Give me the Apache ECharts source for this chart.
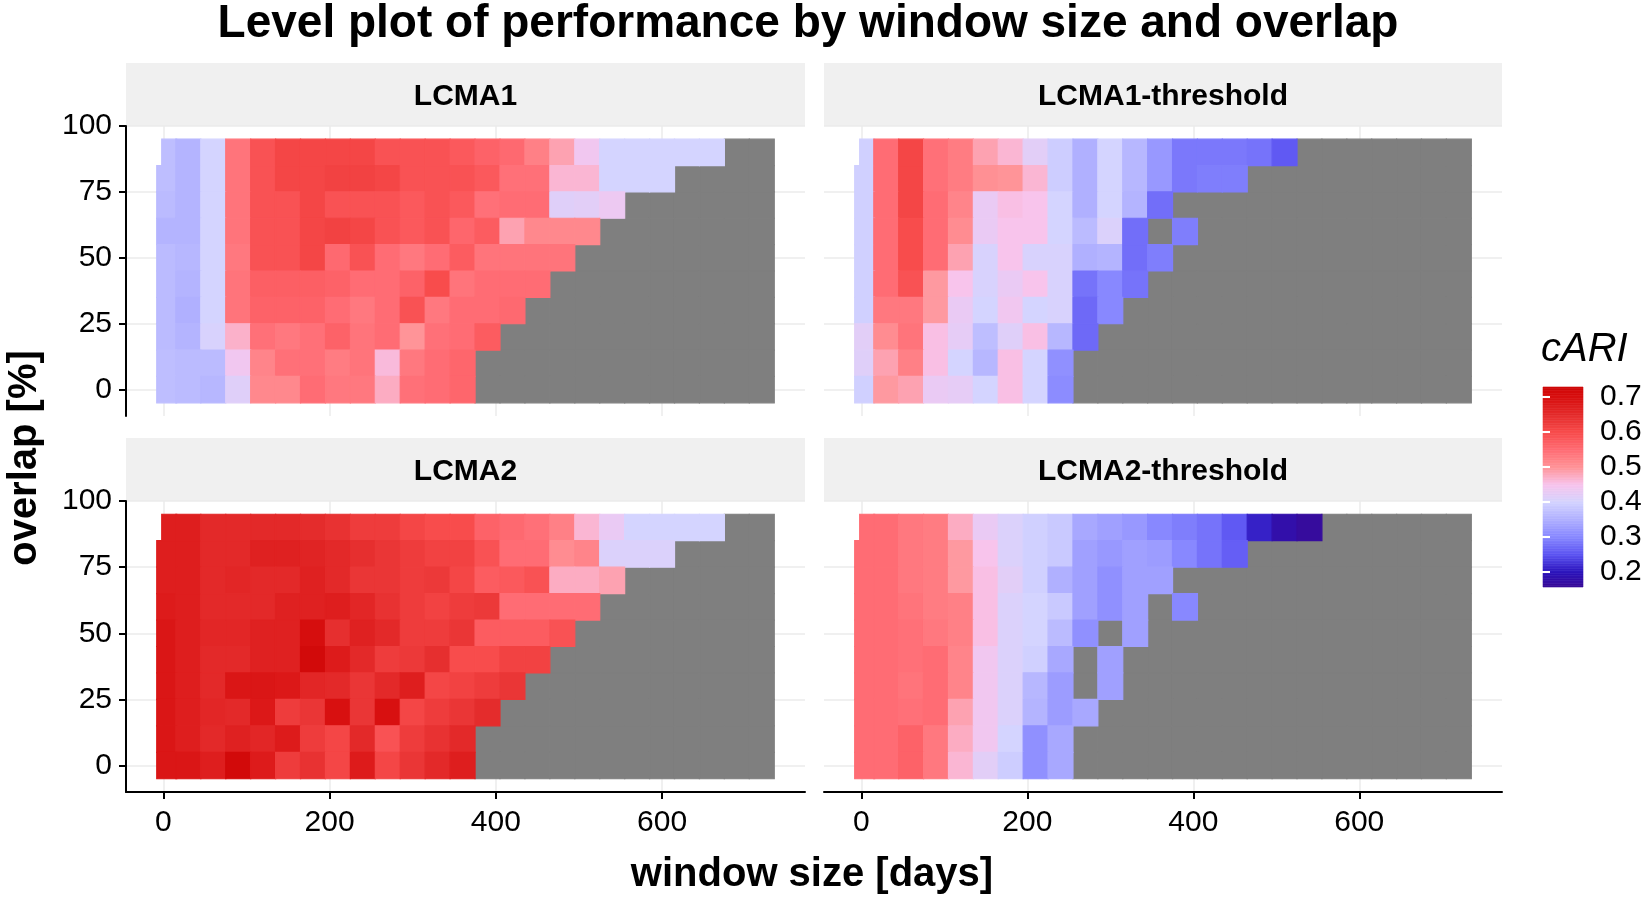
<!DOCTYPE html>
<html>
<head>
<meta charset="utf-8">
<title>Level plot of performance by window size and overlap</title>
<script src="https://cdn.jsdelivr.net/npm/echarts@6/dist/echarts.min.js"></script>
<style>
  html, body { margin: 0; padding: 0; background: #fff; }
  #chart { width: 1650px; height: 903px; }
</style>
</head>
<body>
<div id="chart"></div>
<script>
// window sizes in days (column centres, the first window is a short one)
const windowSizes = [4, 30, 60, 90, 120, 150, 180, 210, 240, 270, 300, 330, 360,
  390, 420, 450, 480, 510, 540, 570, 600, 630, 660, 690, 720];
// overlap in %, rows listed from top to bottom
const overlaps = [90, 80, 70, 60, 50, 40, 30, 20, 10, 0];

const xTicks = [0, 200, 400, 600];
const yTicks = [0, 25, 50, 75, 100];
const cariTicks = [0.2, 0.3, 0.4, 0.5, 0.6, 0.7];

const panelNames = ['LCMA1', 'LCMA1-threshold', 'LCMA2', 'LCMA2-threshold'];

// cARI per overlap row; missing cells (NA) are drawn grey
const lcma1 = [
  [.37, .355, .40, .54, .59, .61, .61, .61, .61, .59, .59, .59, .58, .565, .555, .525, .485, .44, .40, .40, .40, .40, .40],
  [.37, .355, .40, .54, .59, .61, .61, .615, .615, .61, .59, .59, .59, .58, .545, .545, .465, .465, .40, .40, .40],
  [.365, .355, .40, .54, .59, .59, .61, .59, .59, .59, .58, .59, .58, .545, .55, .55, .415, .42, .435],
  [.355, .355, .40, .54, .59, .59, .61, .615, .61, .59, .58, .59, .56, .575, .485, .515, .515, .515],
  [.365, .36, .40, .535, .59, .59, .61, .555, .59, .55, .535, .55, .575, .54, .54, .54, .54],
  [.365, .355, .40, .54, .57, .57, .57, .565, .55, .55, .565, .60, .54, .55, .55, .55],
  [.365, .35, .40, .54, .565, .565, .565, .55, .535, .55, .59, .535, .55, .55, .555],
  [.365, .355, .405, .47, .545, .535, .545, .565, .54, .55, .50, .545, .55, .575],
  [.37, .365, .365, .44, .52, .545, .545, .53, .54, .46, .535, .55, .56],
  [.37, .365, .36, .415, .515, .515, .55, .535, .535, .475, .545, .55, .56]
];

const lcma1Threshold = [
  [.395, .55, .61, .545, .53, .485, .465, .42, .39, .35, .40, .36, .32, .285, .285, .285, .28, .255],
  [.395, .55, .61, .545, .53, .505, .50, .465, .39, .35, .40, .36, .32, .285, .29, .29],
  [.395, .55, .61, .55, .52, .43, .455, .45, .40, .35, .40, .355, .275],
  [.395, .55, .60, .55, .51, .43, .45, .45, .40, .365, .41, .275, null, .29],
  [.395, .55, .60, .55, .485, .405, .45, .405, .405, .35, .355, .275, .29],
  [.395, .55, .59, .495, .45, .405, .43, .45, .405, .28, .30, .28],
  [.395, .535, .535, .495, .43, .40, .44, .40, .405, .27, .30],
  [.42, .51, .54, .455, .425, .37, .415, .455, .36, .27],
  [.415, .485, .525, .455, .40, .36, .455, .40, .31],
  [.395, .495, .485, .43, .425, .40, .455, .40, .305]
];

const lcma2 = [
  [.675, .675, .655, .655, .655, .655, .65, .64, .625, .625, .61, .60, .60, .565, .555, .545, .525, .465, .43, .40, .40, .40, .40],
  [.675, .675, .655, .655, .67, .67, .665, .655, .645, .635, .625, .615, .615, .59, .55, .55, .51, .52, .41, .41, .41],
  [.675, .675, .655, .66, .655, .655, .67, .655, .635, .635, .625, .63, .61, .575, .58, .59, .475, .475, .485],
  [.68, .675, .655, .655, .655, .67, .67, .675, .66, .64, .625, .615, .625, .63, .55, .55, .55, .55],
  [.69, .675, .66, .66, .67, .67, .705, .645, .67, .655, .625, .625, .635, .575, .575, .575, .59],
  [.69, .675, .655, .655, .67, .67, .72, .68, .655, .625, .63, .645, .60, .60, .615, .615],
  [.69, .675, .655, .69, .69, .685, .66, .655, .635, .655, .675, .61, .615, .625, .635],
  [.69, .675, .66, .655, .685, .625, .635, .70, .635, .70, .61, .625, .635, .65],
  [.69, .675, .655, .67, .66, .68, .625, .61, .655, .59, .625, .64, .655],
  [.69, .69, .675, .72, .68, .625, .64, .61, .68, .61, .635, .655, .675]
];

const lcma2Threshold = [
  [.55, .55, .535, .53, .475, .43, .41, .395, .385, .34, .33, .32, .30, .29, .28, .255, .21, .18, .165],
  [.55, .55, .535, .53, .495, .45, .41, .395, .385, .33, .32, .33, .325, .30, .28, .26],
  [.55, .55, .535, .53, .495, .455, .42, .395, .35, .33, .31, .33, .33],
  [.55, .55, .54, .53, .525, .455, .41, .40, .385, .33, .31, .33, null, .30],
  [.55, .55, .545, .535, .525, .455, .41, .40, .365, .31, null, .33],
  [.55, .55, .545, .55, .52, .44, .41, .395, .34, null, .33],
  [.55, .55, .54, .55, .52, .44, .41, .36, .325, null, .33],
  [.55, .55, .545, .55, .485, .44, .41, .355, .325, .34],
  [.55, .55, .565, .535, .475, .44, .40, .31, .34],
  [.55, .55, .565, .535, .465, .42, .39, .31, .34]
];

const panelData = [lcma1, lcma1Threshold, lcma2, lcma2Threshold];

const FONT = '"Liberation Sans", Arial, sans-serif';
const NA_GREY = '#7f7f7f';

// panel layout (px)
const panels = [
  { left: 126, top: 126, width: 679, height: 290 },
  { left: 824, top: 126, width: 678, height: 290 },
  { left: 126, top: 501, width: 679, height: 291 },
  { left: 824, top: 501, width: 678, height: 291 }
];
const stripH = 63;

// tile extent along x for column i
function tileX(i, overlap) {
  const w = windowSizes[i];
  const half = i === 0 ? 12 : 15;
  let x0 = w - half;
  if (i === 0 && overlap === 90) x0 = -2;
  return [x0, w + half];
}

function buildTiles(rows) {
  const vals = [], missing = [];
  rows.forEach((row, r) => {
    const ov = overlaps[r];
    windowSizes.forEach((w, i) => {
      const v = row[i] === undefined ? null : row[i];
      const [x0, x1] = tileX(i, ov);
      if (v === null) missing.push([x0, x1, ov]);
      else vals.push([x0, x1, ov, v]);
    });
  });
  return { vals, missing };
}

function renderTile(params, api) {
  const y = api.value(2);
  const p0 = api.coord([api.value(0), y + 5]);
  const p1 = api.coord([api.value(1), y - 5]);
  const color = api.visual('color');
  return {
    type: 'rect',
    shape: { x: p0[0], y: p0[1], width: p1[0] - p0[0], height: p1[1] - p0[1] },
    style: { fill: color, stroke: color, lineWidth: 1.2 }
  };
}

function renderLegendStep(params, api) {
  const p0 = api.coord([0, api.value(4)]);
  const p1 = api.coord([1, api.value(2)]);
  const color = api.visual('color');
  return {
    type: 'rect',
    shape: { x: p0[0], y: p0[1], width: p1[0] - p0[0], height: p1[1] - p0[1] },
    style: { fill: color, stroke: color, lineWidth: 0.6 }
  };
}

const grids = [], xAxes = [], yAxes = [], series = [], graphics = [];
const colourSeries = [];

panels.forEach((p, k) => {
  const isBottom = k >= 2, isLeft = k % 2 === 0;
  grids.push({ left: p.left, top: p.top, width: p.width, height: p.height });
  xAxes.push({
    type: 'value', gridIndex: k, min: -45, max: 772,
    axisLine: { show: isBottom, onZero: false, lineStyle: { color: '#000', width: 2 } },
    axisTick: { show: isBottom, length: 7, customValues: xTicks, lineStyle: { color: '#000', width: 2 } },
    axisLabel: { show: isBottom, customValues: xTicks, margin: 16, fontSize: 30, color: '#000', fontFamily: FONT },
    splitLine: { show: true, lineStyle: { color: '#ebebeb', width: 1.5 } }
  });
  yAxes.push({
    type: 'value', gridIndex: k, min: -10, max: 100,
    axisLine: { show: isLeft, onZero: false, lineStyle: { color: '#000', width: 2 } },
    axisTick: { show: isLeft, length: 7, customValues: yTicks, lineStyle: { color: '#000', width: 2 } },
    axisLabel: { show: isLeft, customValues: yTicks, margin: 14, fontSize: 30, color: '#000', fontFamily: FONT },
    splitLine: { show: true, lineStyle: { color: '#ebebeb', width: 1.5 } }
  });

  const t = buildTiles(panelData[k]);
  colourSeries.push(series.length);
  series.push({
    type: 'custom', name: panelNames[k] + ' NA', xAxisIndex: k, yAxisIndex: k,
    renderItem: renderTile, data: t.missing, itemStyle: { color: NA_GREY },
    silent: true, animation: false
  });
  colourSeries.pop();
  colourSeries.push(series.length);
  series.push({
    type: 'custom', name: panelNames[k], xAxisIndex: k, yAxisIndex: k,
    renderItem: renderTile, data: t.vals, silent: true, animation: false
  });

  // facet strip
  const stripTop = p.top - stripH;
  graphics.push({
    type: 'rect', left: p.left, top: stripTop,
    shape: { width: p.width, height: stripH },
    style: { fill: '#f0f0f0' }, silent: true
  });
  graphics.push({
    type: 'text', x: p.left + p.width / 2, y: stripTop + stripH / 2 + 2,
    style: {
      text: panelNames[k], font: 'bold 30px ' + FONT, fill: '#000',
      textAlign: 'center', textVerticalAlign: 'middle'
    }, silent: true
  });
});

// colour bar legend
const legMin = 0.157, legMax = 0.729, legSteps = 120;
const legendData = [];
for (let i = 0; i < legSteps; i++) {
  const lo = legMin + (legMax - legMin) * i / legSteps;
  const hi = legMin + (legMax - legMin) * (i + 1) / legSteps;
  legendData.push([0, 1, lo, (lo + hi) / 2, hi]);
}
const lg = panels.length;
grids.push({ left: 1543, top: 387, width: 40, height: 200 });
xAxes.push({ type: 'value', gridIndex: lg, min: 0, max: 1, show: false });
yAxes.push({
  type: 'value', gridIndex: lg, min: legMin, max: legMax, position: 'right', z: 5,
  axisLine: { show: false },
  axisTick: { show: true, inside: true, length: 7, customValues: cariTicks, lineStyle: { color: '#fff', width: 2 } },
  axisLabel: { customValues: cariTicks, margin: 17, fontSize: 30, color: '#000', fontFamily: FONT,
    formatter: v => v.toFixed(1) },
  splitLine: { show: false }
});
yAxes.push({
  type: 'value', gridIndex: lg, min: legMin, max: legMax, position: 'left', z: 5,
  axisLine: { show: false },
  axisTick: { show: true, inside: true, length: 7, customValues: cariTicks, lineStyle: { color: '#fff', width: 2 } },
  axisLabel: { show: false },
  splitLine: { show: false }
});
colourSeries.push(series.length);
series.push({
  type: 'custom', name: 'cARI scale', xAxisIndex: lg, yAxisIndex: lg,
  renderItem: renderLegendStep, data: legendData, silent: true, animation: false
});

graphics.push({
  type: 'text', x: 1541, y: 350,
  style: { text: 'cARI', font: 'italic 40px ' + FONT, fill: '#000', textVerticalAlign: 'middle' },
  silent: true
});
graphics.push({
  type: 'text', x: 812, y: 875,
  style: { text: 'window size [days]', font: 'bold 40px ' + FONT, fill: '#000',
    textAlign: 'center', textVerticalAlign: 'middle' },
  silent: true
});
graphics.push({
  type: 'text', x: 25, y: 458, rotation: Math.PI / 2,
  style: { text: 'overlap [%]', font: 'bold 40px ' + FONT, fill: '#000',
    textAlign: 'center', textVerticalAlign: 'middle' },
  silent: true
});
graphics.push({
  type: 'text', x: 808, y: 24,
  style: { text: 'Level plot of performance by window size and overlap', font: 'bold 46px ' + FONT,
    fill: '#000', textAlign: 'center', textVerticalAlign: 'middle' },
  silent: true
});

const chart = echarts.init(document.getElementById('chart'), null, { renderer: 'canvas' });
chart.setOption({
  backgroundColor: '#fff',
  animation: false,
  grid: grids,
  xAxis: xAxes,
  yAxis: yAxes,
  visualMap: {
    type: 'continuous', show: false, min: 0.15, max: 0.75, dimension: 3,
    seriesIndex: colourSeries,
    inRange: {
      color: ['#3a0890', '#2c14bc', '#5c54f2', '#8888ff', '#b0b0ff', '#d4d4ff', '#f8c4ec',
        '#ff9498', '#ff6c74', '#f84c4c', '#e42c2c', '#d81010', '#c80000']
    }
  },
  graphic: graphics,
  series: series
});
</script>
</body>
</html>
